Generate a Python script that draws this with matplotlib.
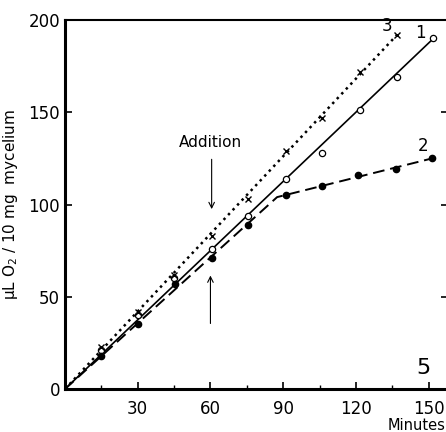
import matplotlib.pyplot as plt

# measured points (minutes, uL O2 / 10 mg mycelium)
x1 = [15, 30, 45, 60.5, 75.5, 91, 106, 121.5, 137, 152]
y1 = [21, 40, 60, 76, 94, 114, 128, 151, 169, 190]
x2 = [15, 30, 45.5, 60.5, 75.5, 91, 106, 121, 136.5, 151.5]
y2 = [18, 35, 57, 71, 89, 105, 110, 116, 119, 125]
x3 = [15, 30, 45, 60.5, 75.5, 91, 106, 121.5, 137]
y3 = [23, 42, 62, 83, 103, 129, 147, 172, 192]

# drawn (fitted) lines
fit1_x = [0, 152]
fit1_y = [0, 190]
fit2_x = [0, 87.5, 151.5]
fit2_y = [0, 104, 125]
fit3_x = [0, 137]
fit3_y = [0, 192]

xticks = [30, 60, 90, 120, 150]
yticks = [0, 50, 100, 150, 200]

plt.rcParams['font.family'] = ['DejaVu Sans']
fig = plt.figure(figsize=(4.46, 4.32), dpi=100)
ax = fig.add_axes([65 / 446, 43 / 432, 383 / 446, 369 / 432])

ax.plot(fit1_x, fit1_y, '-', color='black', lw=1.2)
ax.plot(fit2_x, fit2_y, '--', color='black', lw=1.4, dashes=(6, 3))
ax.plot(fit3_x, fit3_y, ':', color='black', lw=1.8)

ax.plot(x1, y1, 'o', mfc='white', mec='black', ms=4.5, mew=0.9)
ax.plot(x2, y2, 'o', color='black', ms=4.5)
ax.plot(x3, y3, 'x', color='black', ms=4.5, mew=1)

ax.set_xlim(0, 158)
ax.set_ylim(0, 200)
ax.set_xticks(xticks)
ax.set_xticks([15, 45, 75, 105, 135], minor=True)
ax.set_yticks(yticks)
ax.tick_params(direction='in', length=5, width=1.2, labelsize=12, right=True)
ax.tick_params(which='minor', direction='in', length=3, width=1)
ax.tick_params(axis='x', pad=8)
for s in ['left', 'bottom']:
    ax.spines[s].set_linewidth(2.2)
ax.spines['top'].set_linewidth(1.5)
ax.spines['right'].set_linewidth(1.5)

ax.set_ylabel('μL O$_2$ / 10 mg  mycelium', fontsize=11, labelpad=6)
ax.text(157, -20, 'Minutes', fontsize=10.5, ha='right', va='center', clip_on=False)

ax.text(135, 194, '3', fontsize=12, ha='right')
ax.text(149, 190, '1', fontsize=12, ha='right')
ax.text(150, 129, '2', fontsize=12, ha='right')
ax.text(148, 8, '5', fontsize=16, ha='center')

ax.text(60, 131, 'Addition', fontsize=11, ha='center')
ax.annotate('', xy=(60.5, 96), xytext=(60.5, 126),
            arrowprops=dict(arrowstyle='->', color='black', lw=0.8))
ax.annotate('', xy=(60, 63), xytext=(60, 34),
            arrowprops=dict(arrowstyle='->', color='black', lw=0.8))

fig.savefig('out.png', dpi=100)
